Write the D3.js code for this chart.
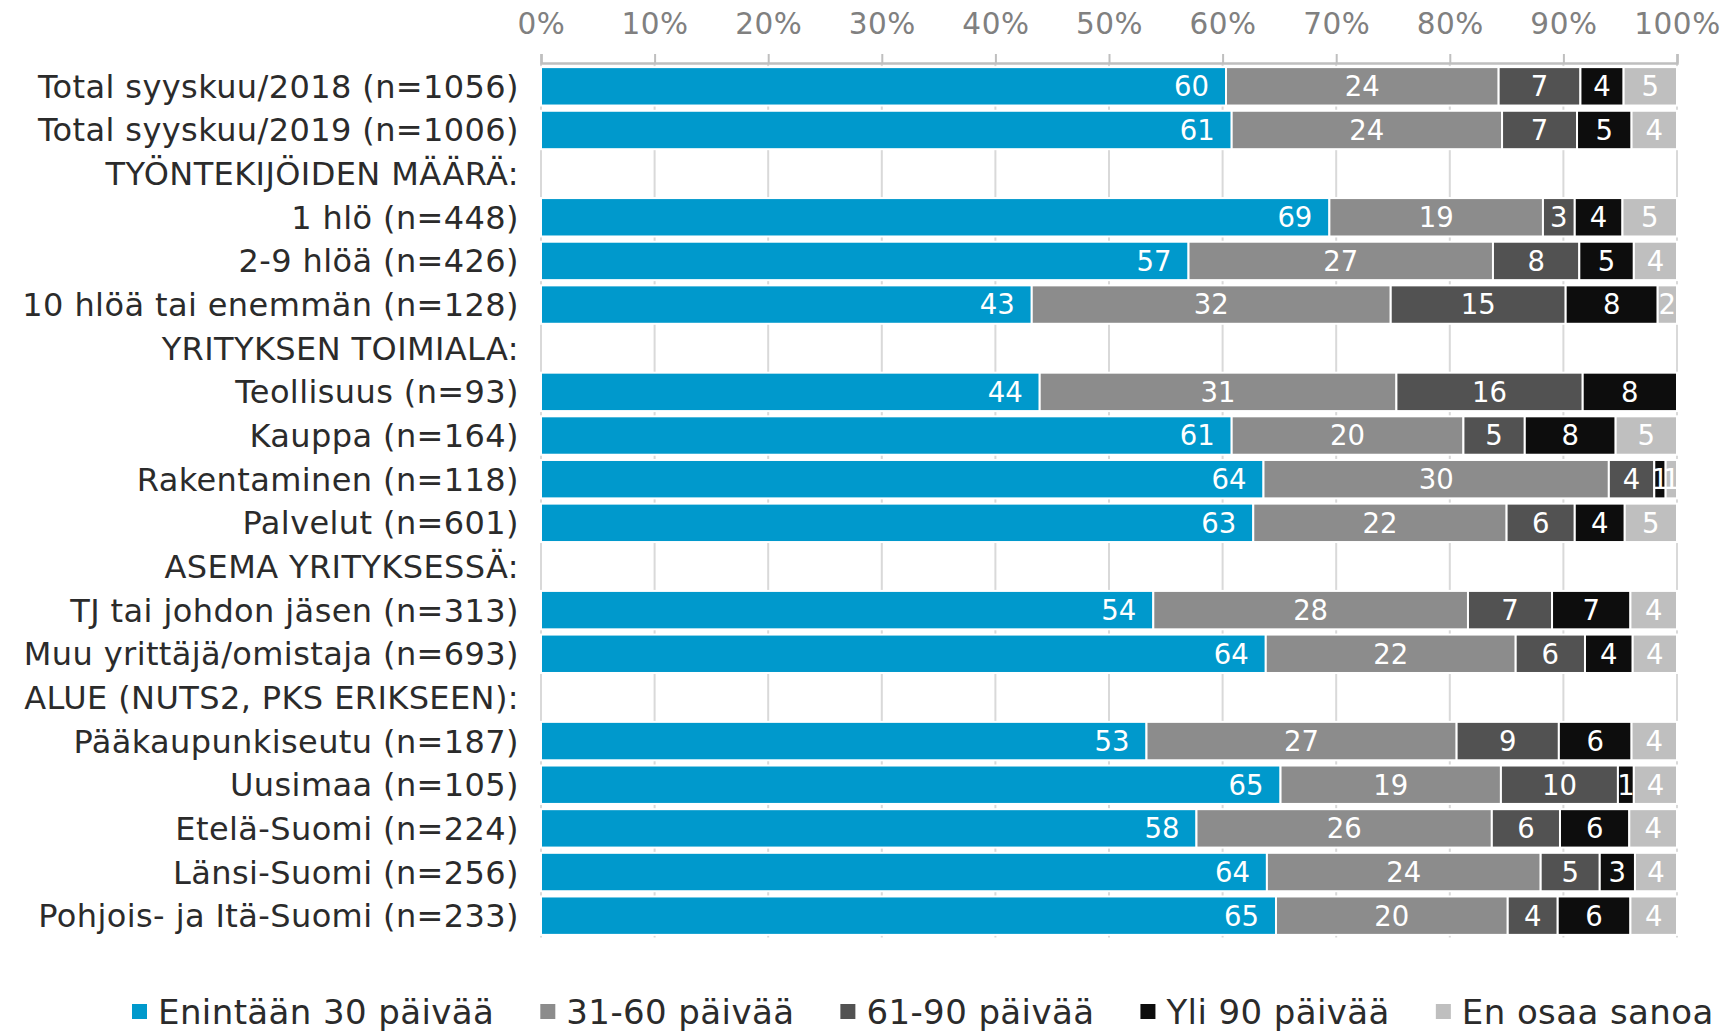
<!DOCTYPE html>
<html>
<head>
<meta charset="utf-8">
<script src="https://cdnjs.cloudflare.com/ajax/libs/d3/7.8.5/d3.min.js"></script>
<style>
  body {
    margin: 0;
    background: #fff;
  }
  svg text {
    font-family: "DejaVu Sans", Verdana, sans-serif;
  }
</style>
</head>
<body>
<div id="graph-holder"></div>
<script>
// rows of the chart, header rows have no values (null)
var categories = [
  "Total syyskuu/2018 (n=1056)",
  "Total syyskuu/2019 (n=1006)",
  "TYÖNTEKIJÖIDEN MÄÄRÄ:",
  "1 hlö (n=448)",
  "2-9 hlöä (n=426)",
  "10 hlöä tai enemmän (n=128)",
  "YRITYKSEN TOIMIALA:",
  "Teollisuus (n=93)",
  "Kauppa (n=164)",
  "Rakentaminen (n=118)",
  "Palvelut (n=601)",
  "ASEMA YRITYKSESSÄ:",
  "TJ tai johdon jäsen (n=313)",
  "Muu yrittäjä/omistaja (n=693)",
  "ALUE (NUTS2, PKS ERIKSEEN):",
  "Pääkaupunkiseutu (n=187)",
  "Uusimaa (n=105)",
  "Etelä-Suomi (n=224)",
  "Länsi-Suomi (n=256)",
  "Pohjois- ja Itä-Suomi (n=233)",
];

var seriesNames = [
  "Enintään 30 päivää",
  "31-60 päivää",
  "61-90 päivää",
  "Yli 90 päivää",
  "En osaa sanoa",
];

var upTo30 = [60.3, 60.8, null, 69.4, 57.0, 43.2, null, 43.9, 60.8, 63.6, 62.7, null, 53.9, 63.8, null, 53.3, 65.1, 57.7, 63.9, 64.7];
var days31to60 = [24.0, 23.8, null, 18.8, 26.8, 31.6, null, 31.4, 20.4, 30.4, 22.3, null, 27.7, 22.0, null, 27.3, 19.4, 26.0, 24.1, 20.4];
var days61to90 = [7.2, 6.6, null, 2.8, 7.6, 15.4, null, 16.4, 5.4, 4.0, 6.0, null, 7.4, 6.1, null, 9.0, 10.3, 6.0, 5.2, 4.4];
var over90 = [3.8, 4.8, null, 4.2, 4.8, 8.1, null, 8.3, 8.0, 1.0, 4.4, null, 6.9, 4.2, null, 6.4, 1.4, 6.1, 3.1, 6.4];
var dontKnow = [4.7, 4.0, null, 4.8, 3.8, 1.7, null, 0, 5.4, 1.0, 4.6, null, 4.1, 3.9, null, 4.0, 3.8, 4.2, 3.7, 4.1];

var tickValues = [0, 10, 20, 30, 40, 50, 60, 70, 80, 90, 100];

var colors = ["#0099cc", "#8c8c8c", "#525252", "#0d0d0d", "#bfbfbf"];

drawStackedBars();

function drawStackedBars() {
  var margin = { top: 64.5, left: 541, right: 52 },
    width = 1729 - margin.left - margin.right,
    plotHeight = 873;

  var seriesData = [upTo30, days31to60, days61to90, over90, dontKnow];

  // one object per row for d3.stack
  var table = categories.map(function(c, i) {
    var row = { category: c, header: upTo30[i] === null };
    seriesNames.forEach(function(s, j) {
      row[s] = seriesData[j][i] === null ? 0 : seriesData[j][i];
    });
    return row;
  });

  var stacked = d3.stack().keys(seriesNames)(table);

  var x = d3.scaleLinear().domain([0, 100]).range([0, width]);

  var y = d3
    .scaleBand()
    .domain(categories)
    .range([0, plotHeight])
    .paddingInner(0.12)
    .paddingOuter(0.06);

  var svg = d3
    .select("#graph-holder")
    .append("svg")
    .attr("width", 1729)
    .attr("height", 1031);

  var g = svg
    .append("g")
    .attr("transform", `translate(${margin.left}, ${margin.top})`);

  // vertical gridlines
  g.selectAll(".grid")
    .data(tickValues)
    .enter()
    .append("line")
    .attr("class", "grid")
    .attr("x1", (d) => x(d))
    .attr("x2", (d) => x(d))
    .attr("y1", -1.5)
    .attr("y2", plotHeight)
    .attr("stroke", "#d9d9d9")
    .attr("stroke-width", 2);

  // top axis
  var xAxis = d3
    .axisTop(x)
    .tickValues(tickValues)
    .tickSize(9)
    .tickPadding(20)
    .tickFormat((d) => d + "%");

  var axisG = g
    .append("g")
    .attr("class", "x axis")
    .attr("transform", "translate(0, -1.5)")
    .call(xAxis);

  axisG.select(".domain").attr("stroke", "#bfbfbf").attr("stroke-width", 2.5);
  axisG.selectAll(".tick line").attr("stroke", "#bfbfbf").attr("stroke-width", 2);
  axisG
    .selectAll(".tick text")
    .attr("fill", "#808080")
    .style("font-size", "29.5px")
    .style("letter-spacing", "0.5px");

  // category labels
  g.selectAll("text.cat")
    .data(categories)
    .enter()
    .append("text")
    .attr("class", "cat")
    .attr("x", -22)
    .attr("y", (d) => y(d) + y.bandwidth() / 2)
    .attr("dy", "0.36em")
    .attr("text-anchor", "end")
    .attr("fill", "#2b2b2b")
    .style("font-size", "32px")
    .style("letter-spacing", "0.4px")
    .text((d) => d);

  var layers = g
    .selectAll(".layer")
    .data(stacked)
    .enter()
    .append("g")
    .attr("class", "layer")
    .attr("fill", (d, i) => colors[i]);

  layers
    .selectAll("rect")
    .data((d) => d.filter((p) => !p.data.header && p[1] - p[0] > 0))
    .enter()
    .append("rect")
    .attr("x", (d) => x(d[0]))
    .attr("y", (d) => y(d.data.category))
    .attr("width", (d) => x(d[1]) - x(d[0]))
    .attr("height", y.bandwidth())
    .attr("stroke", "#fff")
    .attr("stroke-width", 2);

  // value labels, first series at inside end, others centred
  layers.each(function(layer, i) {
    d3.select(this)
      .selectAll("text")
      .data(layer.filter((p) => !p.data.header && p[1] - p[0] > 0))
      .enter()
      .append("text")
      .attr("x", (d) => (i === 0 ? x(d[1]) - 17 : (x(d[0]) + x(d[1])) / 2))
      .attr("y", (d) => y(d.data.category) + y.bandwidth() / 2)
      .attr("dy", "0.36em")
      .attr("text-anchor", i === 0 ? "end" : "middle")
      .attr("fill", "#fff")
      .style("font-size", "27.5px")
      .text((d) => Math.round(d[1] - d[0]));
  });

  // legend along the bottom
  var legend = svg.append("g").attr("transform", "translate(132, 1012)");
  var lx = 0;
  seriesNames.forEach(function(s, i) {
    var item = legend.append("g").attr("transform", `translate(${lx}, 0)`);
    item
      .append("rect")
      .attr("x", 0)
      .attr("y", -8)
      .attr("width", 15)
      .attr("height", 15)
      .attr("fill", colors[i]);
    var t = item
      .append("text")
      .attr("x", 26)
      .attr("y", 0)
      .attr("dy", "0.36em")
      .attr("fill", "#2b2b2b")
      .style("font-size", "34px")
      .style("letter-spacing", "0.4px")
      .text(s);
    lx += 26 + t.node().getComputedTextLength() + 46;
  });
}
</script>
</body>
</html>
